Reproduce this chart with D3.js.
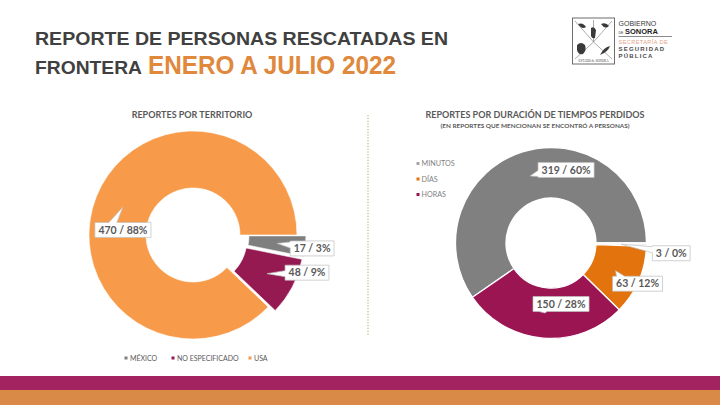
<!DOCTYPE html>
<html>
<head>
<meta charset="utf-8">
<script src="https://cdn.jsdelivr.net/npm/d3@7"></script>
<style>
  html, body { margin: 0; padding: 0; background: #ffffff; }
  svg { display: block; }
</style>
</head>
<body>
<div id="slide"></div>
<script>
const territorioCats = ["MÉXICO", "NO ESPECIFICADO", "USA"];
const territorioVals = [17, 48, 470];
const territorioPct = ["3%", "9%", "88%"];

const duracionCats = ["MINUTOS", "", "DÍAS", "HORAS"];
const duracionVals = [319, 3, 63, 150];
const duracionPct = ["60%", "0%", "12%", "28%"];

const tituloLinea1 = "REPORTE DE PERSONAS RESCATADAS EN";
const tituloLinea2 = "FRONTERA";
const tituloPeriodo = "ENERO A JULIO 2022";

const width = 720;
const height = 405;

const svg =
    d3.select("#slide")
      .append("svg")
      .attr("width", width)
      .attr("height", height);

// ---- encabezado
svg.append("text")
   .attr("x", 35)
   .attr("y", 45)
   .attr("font-family", "'Liberation Sans Narrow', 'Liberation Sans', Arial, sans-serif")
   .attr("font-weight", "bold")
   .attr("font-size", 18.5)
   .attr("fill", "#404040")
   .attr("textLength", 413)
   .attr("lengthAdjust", "spacingAndGlyphs")
   .text(tituloLinea1);

const linea2 =
    svg.append("text")
       .attr("y", 74)
       .attr("font-family", "'Liberation Sans Narrow', 'Liberation Sans', Arial, sans-serif")
       .attr("font-weight", "bold");

linea2.append("tspan")
      .attr("x", 35)
      .attr("font-size", 18.5)
      .attr("fill", "#404040")
      .attr("textLength", 107)
      .attr("lengthAdjust", "spacingAndGlyphs")
      .text(tituloLinea2);

linea2.append("tspan")
      .attr("x", 148)
      .attr("font-size", 25)
      .attr("fill", "#e0883c")
      .attr("textLength", 248)
      .attr("lengthAdjust", "spacingAndGlyphs")
      .text(tituloPeriodo);

// ---- logo (simplificado)
const logo = svg.append("g");

logo.append("rect")
    .attr("x", 572.5)
    .attr("y", 18)
    .attr("width", 42)
    .attr("height", 46)
    .attr("fill", "#ffffff")
    .attr("stroke", "#6d6d6d")
    .attr("stroke-width", 1);

logo.append("path")
    .attr("d", "M575,21 L593.5,42 L612,21 M575,59 L593.5,42 L612,59 M593.5,20 L593.5,42")
    .attr("fill", "none")
    .attr("stroke", "#8a8a8a")
    .attr("stroke-width", 0.7);

logo.append("path")
    .attr("d", "M577,45 q4,-4 8,0 q2,5 -2,9 q-5,1 -6,-4 z M600,55 q4,-8 10,-9 q-2,6 -10,9 z M578,24 q5,-2 8,3 q-4,3 -8,-3 z M601,24 q5,-2 8,2 q-4,4 -8,-2 z M591,28 q3,-2 5,2 l-1,8 q-3,1 -4,-2 z")
    .attr("fill", "#3a3a3a");

logo.append("text")
    .attr("x", 593.5)
    .attr("y", 62)
    .attr("text-anchor", "middle")
    .attr("font-family", "'Liberation Serif', serif")
    .attr("font-size", 3.2)
    .attr("fill", "#444444")
    .text("ESTADO de SONORA");

const logoTxt = [
    {t: "GOBIERNO", y: 26, s: 7, w: "normal", c: "#3a3a3a", ls: 0},
    {t: "SONORA", y: 33.5, s: 7.5, w: "bold", c: "#222222", ls: 0},
    {t: "SECRETARÍA DE", y: 43.5, s: 5.6, w: "normal", c: "#e3a58c", ls: 0.4},
    {t: "SEGURIDAD", y: 50.5, s: 6, w: "bold", c: "#4a4a4a", ls: 1.2},
    {t: "PÚBLICA", y: 57.5, s: 6, w: "bold", c: "#4a4a4a", ls: 1.2}
];

logo.selectAll("text.lg")
    .data(logoTxt)
    .enter()
    .append("text")
    .attr("class", "lg")
    .attr("x", d => d.t === "SONORA" ? 625 : 618.5)
    .attr("y", d => d.y)
    .attr("font-family", "'Liberation Sans', Arial, sans-serif")
    .attr("font-size", d => d.s)
    .attr("font-weight", d => d.w)
    .attr("letter-spacing", d => d.ls)
    .attr("fill", d => d.c)
    .text(d => d.t);

logo.append("text")
    .attr("x", 618.5)
    .attr("y", 33.5)
    .attr("font-family", "'Liberation Sans', Arial, sans-serif")
    .attr("font-size", 3.5)
    .attr("fill", "#3a3a3a")
    .text("DE");

logo.append("line")
    .attr("x1", 618.5)
    .attr("x2", 672)
    .attr("y1", 36.5)
    .attr("y2", 36.5)
    .attr("stroke", "#6d6d6d")
    .attr("stroke-width", 0.8);

// ---- divisor punteado
svg.append("line")
   .attr("x1", 368)
   .attr("x2", 368)
   .attr("y1", 115)
   .attr("y2", 336)
   .attr("stroke", "#8fbc62")
   .attr("stroke-width", 1)
   .attr("stroke-dasharray", "1.2,1.6");

// ---- bandas inferiores
svg.append("rect")
   .attr("x", 0)
   .attr("y", 376)
   .attr("width", width)
   .attr("height", 14)
   .attr("fill", "#a2235f");

svg.append("rect")
   .attr("x", 0)
   .attr("y", 390)
   .attr("width", width)
   .attr("height", 15)
   .attr("fill", "#d98a47");

// ---- etiqueta tipo globo de Excel
function callout(g, tip, cx, cy, label){

    const t =
        g.append("text")
         .attr("x", cx)
         .attr("y", cy + 3.8)
         .attr("text-anchor", "middle")
         .attr("font-family", "Lato, 'Open Sans', sans-serif")
         .attr("font-weight", "bold")
         .attr("font-size", 10.5)
         .attr("fill", "#595959")
         .text(label);

    const w = t.node().getComputedTextLength() + 7;
    const h = 15;
    const x0 = cx - w / 2, x1 = cx + w / 2;
    const y0 = cy - h / 2, y1 = cy + h / 2;

    const dxOut = tip[0] < x0 ? x0 - tip[0] : (tip[0] > x1 ? tip[0] - x1 : 0);
    const dyOut = tip[1] < y0 ? y0 - tip[1] : (tip[1] > y1 ? tip[1] - y1 : 0);

    let pts;
    if (dxOut === 0 && dyOut === 0) {
        pts = [[x0, y0], [x1, y0], [x1, y1], [x0, y1]];
    } else if (dxOut / w >= dyOut / h) {
        const yc = Math.max(y0 + 4, Math.min(y1 - 4, tip[1]));
        if (tip[0] < x0) {
            pts = [[x0, y0], [x1, y0], [x1, y1], [x0, y1], [x0, yc + 3], tip, [x0, yc - 3]];
        } else {
            pts = [[x0, y0], [x1, y0], [x1, yc - 3], tip, [x1, yc + 3], [x1, y1], [x0, y1]];
        }
    } else {
        // la base del pico se corre hacia la esquina, como en Excel
        const xc = Math.max(x0 + 8, Math.min(x1 - 8, (tip[0] + x0 + 8) / 2));
        if (tip[1] < y0) {
            pts = [[x0, y0], [xc - 4, y0], tip, [xc + 4, y0], [x1, y0], [x1, y1], [x0, y1]];
        } else {
            pts = [[x0, y0], [x1, y0], [x1, y1], [xc + 4, y1], tip, [xc - 4, y1], [x0, y1]];
        }
    }

    g.insert("path", "text")
     .attr("d", d3.line()(pts) + "Z")
     .attr("fill", "#ffffff")
     .attr("stroke", "#bfbfbf")
     .attr("stroke-width", 0.7);
}

// ---- dona generica
function drawDonut(cfg){

    const g =
        svg.append("g")
           .attr("transform", `translate(${cfg.cx},${cfg.cy})`);

    const pie =
        d3.pie()
          .sort(null)
          .startAngle(cfg.start)
          .endAngle(cfg.start + 2 * Math.PI);

    const arcs = pie(cfg.values);

    const arc =
        d3.arc()
          .innerRadius(cfg.inner)
          .outerRadius(cfg.outer);

    const color =
        d3.scaleOrdinal()
          .domain(cfg.cats.map((c, i) => i))
          .range(cfg.colors);

    const shift = (d, i) => {
        const m = (d.startAngle + d.endAngle) / 2;
        const o = cfg.explode[i];
        return [Math.sin(m) * o, -Math.cos(m) * o];
    };

    g.selectAll("path.slice")
     .data(arcs)
     .enter()
     .append("path")
     .attr("class", "slice")
     .attr("transform", (d, i) => `translate(${shift(d, i)})`)
     .attr("d", arc)
     .attr("fill", (d, i) => color(i))
     .attr("stroke", "#ffffff")
     .attr("stroke-width", cfg.strokeW);

    arcs.forEach((d, i) => {
        const c = arc.centroid(d);
        const s = shift(d, i);
        const tip = [c[0] + s[0], c[1] + s[1]];
        callout(
            g,
            tip,
            tip[0] + cfg.labelShift[i][0],
            tip[1] + cfg.labelShift[i][1],
            `${cfg.values[i]} / ${cfg.pct[i]}`
        );
    });
}

// ---- grafico izquierdo
svg.append("text")
   .attr("x", 192)
   .attr("y", 118)
   .attr("text-anchor", "middle")
   .attr("font-family", "Lato, 'Open Sans', sans-serif")
   .attr("font-weight", "bold")
   .attr("font-size", 9)
   .attr("fill", "#595959")
   .text("REPORTES POR TERRITORIO");

const coloresTerritorio = ["#7f7f7f", "#951a52", "#f79a4a"];

drawDonut({
    cx: 193, cy: 235,
    inner: 47, outer: 104,
    start: Math.PI / 2,
    values: territorioVals,
    cats: territorioCats,
    pct: territorioPct,
    colors: coloresTerritorio,
    explode: [9, 8, 0],
    strokeW: 0.6,
    labelShift: [[35, 5], [40, -1], [0, 23]]
});

const legIzq = [126, 173, 250];

const leg1 =
    svg.selectAll("g.leg1")
       .data(territorioCats)
       .enter()
       .append("g")
       .attr("class", "leg1")
       .attr("transform", (d, i) => `translate(${legIzq[i]},358)`);

leg1.append("rect")
    .attr("x", -1.5)
    .attr("y", -1.5)
    .attr("width", 3)
    .attr("height", 3)
    .attr("fill", (d, i) => coloresTerritorio[i]);

leg1.append("text")
    .attr("x", 4)
    .attr("y", 2.6)
    .attr("font-family", "Lato, 'Open Sans', sans-serif")
    .attr("font-size", 7)
    .attr("fill", "#595959")
    .text(d => d);

// ---- grafico derecho
svg.append("text")
   .attr("x", 535)
   .attr("y", 118)
   .attr("text-anchor", "middle")
   .attr("font-family", "Lato, 'Open Sans', sans-serif")
   .attr("font-weight", "bold")
   .attr("font-size", 9)
   .attr("fill", "#595959")
   .text("REPORTES POR DURACIÓN DE TIEMPOS PERDIDOS");

svg.append("text")
   .attr("x", 535)
   .attr("y", 127.5)
   .attr("text-anchor", "middle")
   .attr("font-family", "Lato, 'Open Sans', sans-serif")
   .attr("font-weight", "bold")
   .attr("font-size", 6.4)
   .attr("fill", "#595959")
   .text("(EN REPORTES QUE MENCIONAN SE ENCONTRÓ A PERSONAS)");

const coloresDuracion = ["#808080", "#f2f2f2", "#e3730c", "#9b1553"];

drawDonut({
    cx: 551, cy: 243,
    inner: 45, outer: 95.5,
    start: Math.PI / 2 - 2 * Math.PI * duracionVals[0] / d3.sum(duracionVals),
    values: duracionVals,
    cats: duracionCats,
    pct: duracionPct,
    colors: coloresDuracion,
    explode: [0, 0, 0, 0],
    strokeW: 1.3,
    labelShift: [[36, -6], [50, 9], [22, 13], [16, -9]]
});

const leyendaDer = duracionCats
    .map((c, i) => ({c: c, col: coloresDuracion[i]}))
    .filter(d => d.c !== "");

const leg2 =
    svg.selectAll("g.leg2")
       .data(leyendaDer)
       .enter()
       .append("g")
       .attr("class", "leg2")
       .attr("transform", (d, i) => `translate(418,${163.5 + i * 15.5})`);

leg2.append("rect")
    .attr("x", -1.5)
    .attr("y", -1.5)
    .attr("width", 3)
    .attr("height", 3)
    .attr("fill", (d, i) => i === 0 ? "#a6a6a6" : d.col);

leg2.append("text")
    .attr("x", 3.5)
    .attr("y", 2.6)
    .attr("font-family", "Lato, 'Open Sans', sans-serif")
    .attr("font-size", 7.2)
    .attr("fill", "#7f7f7f")
    .text(d => d.c);
</script>
</body>
</html>
